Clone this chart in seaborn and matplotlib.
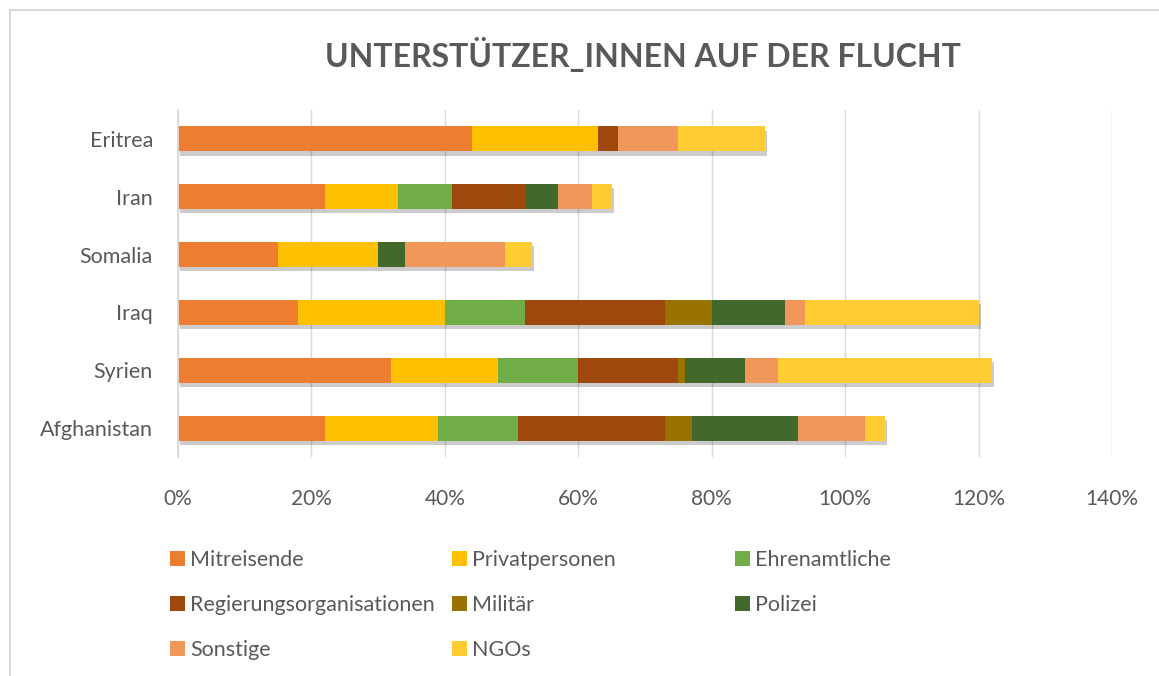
import numpy as np
import pandas as pd
import matplotlib
matplotlib.use("Agg")
import matplotlib.pyplot as plt
import matplotlib.patheffects as pe
from matplotlib.patches import Patch, Rectangle
from matplotlib.ticker import FuncFormatter
import seaborn as sns

countries = ["Eritrea", "Iran", "Somalia", "Iraq", "Syrien", "Afghanistan"]
series = ["Mitreisende", "Privatpersonen", "Ehrenamtliche", "Regierungsorganisationen",
          "Militär", "Polizei", "Sonstige", "NGOs"]
mitreisende = [44, 22, 15, 18, 32, 22]
privatpersonen = [19, 11, 15, 22, 16, 17]
ehrenamtliche = [0, 8, 0, 12, 12, 12]
regierung = [3, 11, 0, 21, 15, 22]
militaer = [0, 0, 0, 7, 1, 4]
polizei = [0, 5, 4, 11, 9, 16]
sonstige = [9, 5, 15, 3, 5, 10]
ngos = [13, 3, 4, 26, 32, 3]
x_ticks = [0, 20, 40, 60, 80, 100, 120, 140]

colors = ["#ED7D31", "#FFC000", "#70AD47", "#9E480E", "#997300", "#43682B", "#F1975A", "#FFCD33"]
values = [mitreisende, privatpersonen, ehrenamtliche, regierung, militaer, polizei, sonstige, ngos]

sns.set_theme(style="white")
plt.rcParams["font.family"] = ["Lato", "DejaVu Sans"]
grey = "#595959"

fig = plt.figure(figsize=(11.59, 6.76), dpi=100)
ax = fig.add_axes([178 / 1159, 1 - 457 / 676, (1112 - 178) / 1159, (457 - 110) / 676])

cum = np.zeros(len(countries))
cums = []
for v in values:
    cum = cum + np.array(v)
    cums.append(cum.copy())

for i in reversed(range(len(series))):
    d = pd.DataFrame({"country": countries, "val": cums[i]})
    sns.barplot(data=d, y="country", x="val", order=countries, orient="h",
                color=colors[i], saturation=1, width=0.43, ax=ax, linewidth=0)
    if i == len(series) - 1:
        for p in ax.patches:
            p.set_path_effects([pe.SimplePatchShadow(offset=(1.5, -3), alpha=0.2, shadow_rgbFace="#000000"),
                                pe.Normal()])

ax.set_xlim(0, 140)
ax.set_xticks(x_ticks)
ax.xaxis.set_major_formatter(FuncFormatter(lambda v, p: f"{int(v)}%"))
ax.grid(axis="x", color="#D9D9D9", linewidth=1)
ax.set_axisbelow(True)
for s in ["top", "right", "bottom"]:
    ax.spines[s].set_visible(False)
ax.spines["left"].set_color("#D9D9D9")
ax.set_xlabel("")
ax.set_ylabel("")
ax.tick_params(axis="x", length=0, pad=23, labelsize=15, labelcolor=grey)
ax.tick_params(axis="y", length=0, pad=18, labelsize=15.5, labelcolor=grey)

fig.text(643 / 1159, 1 - 55 / 676, "UNTERSTÜTZER_INNEN AUF DER FLUCHT", ha="center", va="center",
         fontsize=23, fontweight="bold", color=grey)

# legend in three columns
cols = [[0, 3, 6], [1, 4, 7], [2, 5]]
col_x = [170, 452, 735]
for cx, idxs in zip(col_x, cols):
    handles = [Patch(facecolor=colors[j], edgecolor="none", label=series[j]) for j in idxs]
    fig.legend(handles=handles, loc="upper left", bbox_to_anchor=(cx / 1159, 1 - 550 / 676),
               frameon=False, fontsize=15.5, labelcolor=grey, handlelength=0.7, handleheight=0.7,
               handletextpad=0.25, labelspacing=1.16, borderpad=0, borderaxespad=0)

fig.patches.append(Rectangle((10 / 1159, -0.05), 1.1, 1 - 10 / 676 + 0.05, transform=fig.transFigure,
                             fill=False, edgecolor="#D9D9D9", linewidth=1.5))

fig.savefig("out.png", dpi=100)
